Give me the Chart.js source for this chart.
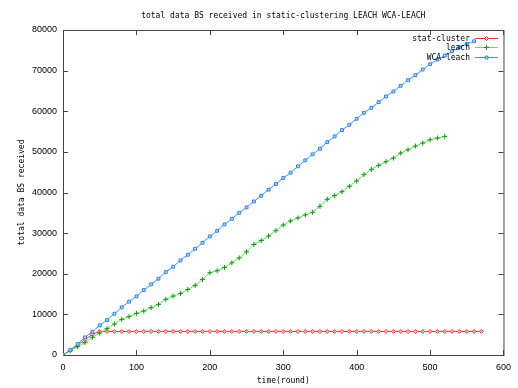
<!DOCTYPE html>
<html>
<head>
<meta charset="utf-8">
<script src="https://cdn.jsdelivr.net/npm/chart.js@4"></script>
<style>
  html, body { margin: 0; padding: 0; background: #fff; }
  canvas { display: block; }
</style>
</head>
<body>
<canvas id="bsChart" width="518" height="388"></canvas>
<script>
// rounds (x values), every 10 rounds
const rounds = [0,10,20,30,40,50,60,70,80,90,100,110,120,130,140,150,160,170,180,190,
    200,210,220,230,240,250,260,270,280,290,300,310,320,330,340,350,360,370,380,390,
    400,410,420,430,440,450,460,470,480,490,500,510,520,530,540,550,560,570];

// total data received at BS
const statCluster = [0,1100,2400,3800,5100,5800,5800,5800,5800,5800,5800,5800,5800,5800,5800,5800,
    5800,5800,5800,5800,5800,5800,5800,5800,5800,5800,5800,5800,5800,5800,5800,5800,5800,5800,
    5800,5800,5800,5800,5800,5800,5800,5800,5800,5800,5800,5800,5800,5800,5800,5800,5800,5800,
    5800,5800,5800,5800,5800,5800];
const leach = [0,1070,2050,3030,4350,5400,6480,7630,8770,9430,10250,10820,11640,12460,13700,
    14500,15170,16150,17140,18600,20250,20750,21570,22700,23900,25400,27200,28200,29300,30600,
    32000,33000,33740,34480,35130,36600,38330,39230,40200,41520,42830,44390,45700,46680,47580,
    48480,49710,50530,51430,52170,52990,53400,53810];
const wcaLeach = [0,1230,2710,4350,5740,7300,8610,10170,11730,13120,14430,15990,17380,18780,
    20420,21730,23290,24680,26160,27630,29190,30580,32140,33540,35010,36320,37800,39200,40700,
    42100,43570,44880,46440,47910,49390,50780,52420,53810,55360,56670,58150,59620,60850,62240,
    63640,64860,66260,67650,68880,70270,71580,72730,73710,74770,75760,76580,77230];

const xTicks = [0, 100, 200, 300, 400, 500, 600];
const yTicks = [0, 10000, 20000, 30000, 40000, 50000, 60000, 70000, 80000];

const monoFont = '8px "DejaVu Sans Mono"';

function toPoints(values) {
    return values.map((v, i) => ({ x: rounds[i], y: v }));
}

// gnuplot style frame, mirrored inward ticks, titles and key
const gnuplotFrame = {
    id: 'gnuplotFrame',
    beforeDatasetsDraw(chart) {
        const { ctx, chartArea: a, scales } = chart;
        ctx.save();
        ctx.strokeStyle = '#444';
        ctx.lineWidth = 1;
        ctx.strokeRect(a.left + 0.5, a.top + 0.5, a.right - a.left, a.bottom - a.top);
        ctx.beginPath();
        xTicks.forEach(t => {
            const x = Math.round(scales.x.getPixelForValue(t)) + 0.5;
            ctx.moveTo(x, a.bottom); ctx.lineTo(x, a.bottom - 5);
            ctx.moveTo(x, a.top); ctx.lineTo(x, a.top + 5);
        });
        yTicks.forEach(t => {
            const y = Math.round(scales.y.getPixelForValue(t)) + 0.5;
            ctx.moveTo(a.left, y); ctx.lineTo(a.left + 5, y);
            ctx.moveTo(a.right, y); ctx.lineTo(a.right - 5, y);
        });
        ctx.stroke();

        ctx.fillStyle = '#000';
        ctx.font = monoFont;
        ctx.textAlign = 'center';
        ctx.textBaseline = 'middle';
        const cx = (a.left + a.right) / 2;
        ctx.fillText('total data BS received in static-clustering LEACH WCA-LEACH', cx, 16);
        ctx.fillText('time(round)', cx, 381);
        ctx.translate(22, (a.top + a.bottom) / 2);
        ctx.rotate(-Math.PI / 2);
        ctx.fillText('total data BS received', 0, 0);
        ctx.restore();
    },
    afterDatasetsDraw(chart) {
        const { ctx } = chart;
        ctx.save();
        ctx.font = monoFont;
        ctx.textAlign = 'right';
        ctx.textBaseline = 'middle';
        chart.data.datasets.forEach((ds, i) => {
            const y = Math.round(38 + i * 9.3) + 0.5;
            ctx.fillStyle = '#000';
            ctx.fillText(ds.label, 470, y);
            ctx.strokeStyle = ds.borderColor;
            ctx.lineWidth = 1;
            ctx.beginPath();
            ctx.moveTo(475, y);
            ctx.lineTo(498, y);
            ctx.stroke();
            ctx.strokeStyle = ds.pointBorderColor;
            ctx.fillStyle = ds.pointBackgroundColor || ds.pointBorderColor;
            Chart.helpers.drawPoint(ctx, {
                pointStyle: ds.pointStyle,
                radius: ds.pointRadius,
                rotation: 0,
                borderWidth: ds.pointBorderWidth
            }, 486.5, y);
        });
        ctx.restore();
    }
};

const ctx = document.getElementById('bsChart').getContext('2d');
const bsChart = new Chart(ctx, {
    type: 'line',
    data: {
        datasets: [
            {
                label: 'stat-cluster',
                data: toPoints(statCluster),
                borderColor: '#ff2a2a',
                borderWidth: 1,
                pointStyle: 'rectRot',
                pointRadius: 2,
                pointBorderColor: '#ff3030',
                pointBackgroundColor: '#ffc0c0',
                pointBorderWidth: 1,
                order: 3
            },
            {
                label: 'leach',
                data: toPoints(leach),
                borderColor: '#6ed86e',
                borderWidth: 1,
                pointStyle: 'cross',
                pointRadius: 2.5,
                pointBorderColor: '#00a000',
                pointBorderWidth: 1,
                order: 2
            },
            {
                label: 'WCA-leach',
                data: toPoints(wcaLeach),
                borderColor: '#3a94ff',
                borderWidth: 1,
                pointStyle: 'rect',
                pointRadius: 2,
                pointBorderColor: '#2a80f0',
                pointBackgroundColor: '#b8dcff',
                pointBorderWidth: 1,
                order: 1
            }
        ]
    },
    options: {
        responsive: false,
        animation: false,
        devicePixelRatio: 1,
        layout: { padding: { top: 30, right: 11, left: 0, bottom: 0 } },
        plugins: {
            legend: { display: false },
            tooltip: { enabled: false }
        },
        elements: { line: { tension: 0 } },
        scales: {
            x: {
                type: 'linear',
                min: 0,
                max: 600,
                afterFit: s => { s.height = 33; },
                afterBuildTicks: s => { s.ticks = xTicks.map(v => ({ value: v })); },
                grid: { display: false, drawTicks: false },
                border: { display: false },
                ticks: { padding: 7, color: '#000', font: { family: 'Liberation Sans', size: 9 } }
            },
            y: {
                min: 0,
                max: 80000,
                afterFit: s => { s.width = 63; },
                afterBuildTicks: s => { s.ticks = yTicks.map(v => ({ value: v })); },
                grid: { display: false, drawTicks: false },
                border: { display: false },
                ticks: { padding: 6, color: '#000', font: { family: 'Liberation Sans', size: 9 },
                    callback: v => String(v) }
            }
        }
    },
    plugins: [gnuplotFrame]
});
</script>
</body>
</html>
